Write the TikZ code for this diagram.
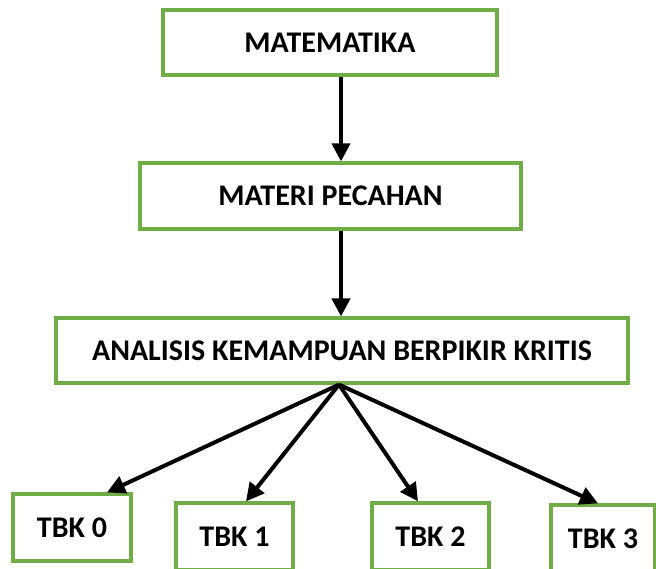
\documentclass[tikz,border=0pt]{standalone}
\usepackage{fontspec}
\setmainfont{Carlito}
\usetikzlibrary{arrows.meta,calc}
\definecolor{boxgreen}{HTML}{70AD47}
\tikzset{
  box/.style={draw=boxgreen, line width=3.2pt, fill=white, inner sep=0pt,
    font=\fontsize{30}{34}\selectfont\bfseries, text=black},
  arr/.style={draw=black, line width=4pt, -{Triangle[length=18pt,width=18pt]}, shorten >=0pt}
}
\begin{document}
\begin{tikzpicture}[x=1pt,y=-1pt]
\useasboundingbox (0,0) rectangle (656,568);
\node[box, minimum width=334pt, minimum height=65pt] (m) at (330,42.5) {MATEMATIKA};
\node[box, minimum width=381pt, minimum height=66pt] (p) at (330.5,196) {MATERI PECAHAN};
\node[box, minimum width=572pt, minimum height=65pt] (a) at (342,350.5) {ANALISIS KEMAMPUAN BERPIKIR KRITIS};
\node[box, minimum width=118pt, minimum height=67pt] (t0) at (72,527.5) {TBK 0};
\node[box, minimum width=117pt, minimum height=67pt] (t1) at (234.5,536.5) {TBK 1};
\node[box, minimum width=117pt, minimum height=67pt] (t2) at (430.5,536.5) {TBK 2};
\node[box, minimum width=104pt, minimum height=67pt] (t3) at (603,538.5) {TBK 3};
\draw[arr] ([xshift=11pt]m.south) -- ([xshift=10.5pt]p.north);
\draw[arr] ([xshift=10.5pt]p.south) -- ([xshift=-1pt]a.north);
\coordinate (f) at ([xshift=-3pt]a.south);
\draw[arr] (f) -- ([xshift=35pt]t0.north);
\draw[arr] (f) -- ([xshift=11.5pt]t1.north);
\draw[arr] (f) -- ([xshift=-12.5pt]t2.north);
\draw[arr] (f) -- ([xshift=-5pt]t3.north);
\end{tikzpicture}
\end{document}
